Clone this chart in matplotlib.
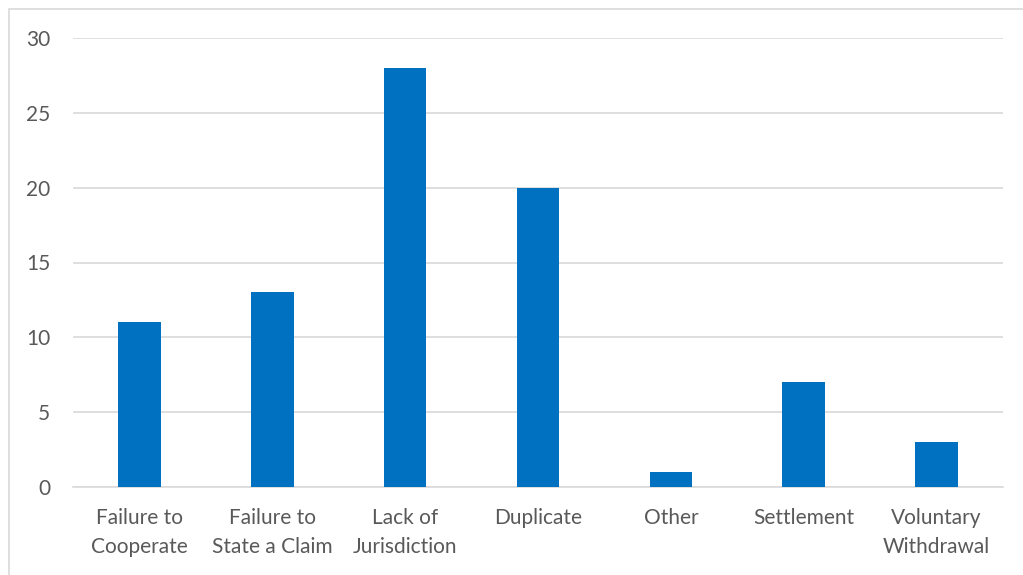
import matplotlib.pyplot as plt
from matplotlib.patches import Rectangle

categories = ['Failure to\nCooperate', 'Failure to\nState a Claim', 'Lack of\nJurisdiction',
              'Duplicate', 'Other', 'Settlement', 'Voluntary\nWithdrawal']
counts = [11, 13, 28, 20, 1, 7, 3]
yticks = [0, 5, 10, 15, 20, 25, 30]

plt.rcParams['font.family'] = ['Lato', 'DejaVu Sans']
text_color = '#595959'

fig = plt.figure(figsize=(10.23, 5.75), dpi=100)
ax = fig.add_axes([73 / 1023, 1 - 487 / 575, 930 / 1023, 449 / 575])

# outer chart border (only top and left visible in the crop)
fig.patches.append(Rectangle((9 / 1023, -0.1), 1.2, 1 - 9 / 575 + 0.1,
                             transform=fig.transFigure, fill=False,
                             edgecolor='#d9d9d9', linewidth=1.2))

x = range(len(categories))
ax.bar(x, counts, width=0.32, color='#0070C0', zorder=3)

ax.set_xlim(-0.5, len(categories) - 0.5)
ax.set_ylim(0, 30)
ax.set_yticks(yticks)
ax.set_xticks(list(x))
ax.set_xticklabels(categories, linespacing=1.6)
ax.yaxis.grid(True, color='#d9d9d9', linewidth=1.2, zorder=0)
for side in ['top', 'right', 'left']:
    ax.spines[side].set_visible(False)
ax.spines['bottom'].set_color('#d9d9d9')
ax.spines['bottom'].set_linewidth(1.2)
ax.tick_params(axis='both', length=0, labelsize=15, colors=text_color)
ax.tick_params(axis='y', pad=16.5)
ax.tick_params(axis='x', pad=15)

fig.savefig('out.png', dpi=100)
